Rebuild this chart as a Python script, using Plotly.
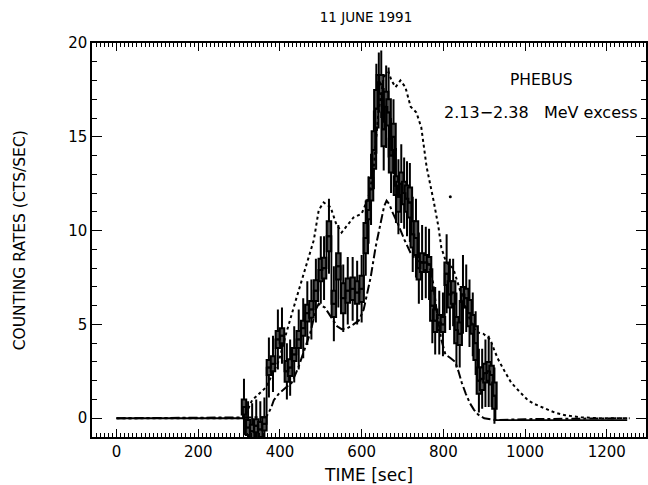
import plotly.graph_objects as go

# ---- data ----
# measured counting rates (bin centre [s], rate, half-height of thick box, 1-sigma error)
bin_time = [312, 322, 332, 342, 352, 362, 373, 383, 395, 405, 417, 425, 435, 446, 457, 467, 477, 488,
            500, 508, 520, 532, 543, 555, 566, 578, 589, 600, 610, 617, 623, 630, 636, 642, 648, 654,
            660, 666, 672, 678, 684, 690, 697, 704, 711, 718, 725, 733, 740, 748, 757, 765, 773, 780,
            790, 799, 808, 816, 824, 832, 840, 848, 856, 864, 872, 879, 887, 895, 903, 911, 918, 925]
rate = [0.6, -0.5, -0.7, -0.4, -0.6, -0.3, 2.7, 2.9, 4.2, 4.4, 2.5, 2.7, 3.4, 4.2, 4.8, 5.6, 5.8, 6.8,
        7.9, 8.0, 9.7, 6.1, 8.1, 6.4, 6.8, 6.9, 6.7, 6.9, 9.6, 11.1, 12.2, 14.3, 16.5, 17.9, 17.8, 15.4,
        16.6, 16.3, 14.0, 15.0, 12.4, 11.8, 12.5, 12.0, 11.7, 11.5, 9.8, 9.6, 8.0, 8.3, 8.3, 8.2, 6.0, 5.2,
        5.1, 5.0, 7.7, 6.6, 6.7, 4.7, 4.5, 6.6, 6.4, 5.6, 5.0, 4.0, 2.0, 2.1, 2.4, 2.5, 2.3, 1.2]
box_half = [0.4, 0.4, 0.35, 0.35, 0.4, 0.35, 0.4, 0.4, 0.45, 0.4, 0.55, 0.45, 0.35, 0.45, 0.4, 0.45, 0.45, 0.55,
            0.6, 0.55, 0.8, 0.7, 0.7, 0.8, 0.65, 0.6, 0.6, 0.7, 0.8, 0.5, 0.6, 1.0, 1.0, 0.4, 0.5, 0.9,
            0.8, 0.7, 0.9, 0.7, 0.5, 0.8, 0.6, 0.6, 0.7, 0.8, 0.7, 0.9, 0.6, 0.5, 0.4, 0.4, 0.8, 0.6,
            0.4, 0.4, 0.6, 0.7, 0.6, 0.7, 0.6, 0.4, 0.5, 0.7, 0.5, 0.9, 0.7, 0.6, 0.5, 0.5, 0.5, 0.7]
rate_err = [1.5, 1.4, 1.5, 1.4, 1.5, 1.4, 1.6, 1.5, 1.6, 1.5, 1.5, 1.5, 1.5, 1.6, 1.6, 1.7, 1.6, 1.7,
            1.8, 1.7, 2.0, 2.0, 2.2, 1.8, 1.8, 1.7, 1.7, 1.8, 2.0, 1.8, 1.9, 2.1, 2.4, 1.6, 1.8, 2.2,
            2.2, 2.4, 2.0, 2.0, 2.0, 2.0, 2.1, 1.9, 2.0, 2.1, 2.0, 2.1, 1.9, 2.0, 1.9, 1.9, 2.0, 1.8,
            1.7, 1.7, 2.1, 1.9, 1.8, 2.0, 1.8, 2.1, 1.8, 1.8, 1.7, 1.7, 1.7, 1.6, 1.8, 1.9, 1.7, 1.5]

# baseline of the measured rate before and after the event
pre_time = [0, 307]
pre_rate = [0.0, 0.0]
post_time = [930, 1250]
post_rate = [-0.1, -0.1]

# model curve 1 (dotted)
dot_time = [0, 312, 332, 366, 398, 415, 439, 471, 483, 495, 507, 524, 537, 551, 568, 580, 600, 617, 629,
            641, 654, 666, 673, 683, 695, 707, 720, 734, 746, 759, 776, 788, 795, 807, 824, 841, 854, 866,
            880, 898, 915, 925, 935, 950, 966, 985, 1007, 1024, 1049, 1073, 1098, 1137, 1180, 1256]
dot_rate = [0.0, 0.0, 0.96, 1.65, 3.1, 4.5, 6.3, 8.6, 9.5, 11.1, 11.5, 11.25, 10.4, 9.9, 10.4, 10.7, 10.9,
            11.8, 13.2, 16.3, 18.2, 18.45, 18.0, 17.65, 18.0, 17.65, 16.6, 16.3, 15.5, 13.4, 11.6, 10.2,
            9.1, 8.3, 8.0, 6.8, 5.9, 5.2, 4.6, 4.5, 4.2, 3.6, 3.1, 2.5, 1.9, 1.45, 0.96, 0.75, 0.5, 0.3,
            0.16, 0.05, 0.0, 0.0]

# model curve 2 (dash-dot)
dd_time = [0, 366, 378, 385, 398, 415, 429, 445, 460, 475, 488, 495, 510, 525, 540, 551, 565, 580, 593,
           605, 612, 622, 634, 646, 655, 661, 668, 675, 690, 705, 720, 735, 750, 765, 775, 785, 795, 805,
           818, 829, 837, 845, 855, 865, 875, 885, 900, 927, 1000, 1250]
dd_rate = [0.0, 0.05, 0.53, 0.96, 1.33, 1.65, 1.9, 2.7, 3.6, 4.6, 5.8, 6.1, 5.9, 5.4, 4.9, 4.75, 4.8, 5.0,
           5.2, 5.8, 6.45, 7.5, 9.1, 10.4, 11.3, 11.6, 11.4, 11.0, 10.3, 9.5, 8.8, 8.4, 8.3, 8.2, 7.2, 5.5,
           4.2, 3.4, 3.2, 3.0, 2.5, 1.9, 1.3, 0.8, 0.45, 0.2, 0.0, -0.1, -0.05, 0.0]

stray_time = [817]
stray_rate = [11.8]

x_ticks = [0, 200, 400, 600, 800, 1000, 1200]
y_ticks = [0, 5, 10, 15, 20]

FONT = "DejaVu Sans, Verdana, sans-serif"

fig = go.Figure()

# model curves
fig.add_trace(go.Scatter(x=dot_time, y=dot_rate, mode="lines",
                         line=dict(color="black", width=2, dash="dot"), hoverinfo="skip"))
fig.add_trace(go.Scatter(x=dd_time, y=dd_rate, mode="lines",
                         line=dict(color="black", width=2, dash="dashdot"), hoverinfo="skip"))

# measured step histogram
step_x = pre_time + bin_time + post_time
step_y = pre_rate + rate + post_rate
fig.add_trace(go.Scatter(x=step_x, y=step_y, mode="lines", line_shape="hvh",
                         line=dict(color="black", width=1.8), hoverinfo="skip"))

# error boxes (thick box) with thin error bars
fig.add_trace(go.Box(
    x=bin_time,
    q1=[v - h for v, h in zip(rate, box_half)],
    median=rate,
    q3=[v + h for v, h in zip(rate, box_half)],
    lowerfence=[v - e for v, e in zip(rate, rate_err)],
    upperfence=[v + e for v, e in zip(rate, rate_err)],
    width=11, whiskerwidth=0, boxpoints=False,
    line=dict(color="black", width=2), fillcolor="rgb(80,80,80)",
    hoverinfo="skip"))

fig.add_trace(go.Scatter(x=stray_time, y=stray_rate, mode="markers",
                         marker=dict(color="black", size=3), hoverinfo="skip"))

axis_common = dict(showgrid=False, zeroline=False, showline=True, linecolor="black", linewidth=1.5,
                   ticks="inside", tickcolor="black", mirror="ticks",
                   tickfont=dict(family=FONT, size=15, color="black"))

fig.update_xaxes(range=[-60, 1296], tickvals=x_ticks, ticklen=8, tickwidth=1.2,
                 minor=dict(dtick=10, ticklen=4, ticks="inside", tickcolor="black", tickwidth=1),
                 **axis_common)
fig.update_yaxes(range=[-1, 20], tickvals=y_ticks, ticklen=10, tickwidth=1.2,
                 minor=dict(dtick=1, ticklen=5, ticks="inside", tickcolor="black", tickwidth=1),
                 **axis_common)

fig.update_layout(
    width=648, height=485,
    margin=dict(l=92, r=0, t=43, b=48),
    paper_bgcolor="white", plot_bgcolor="white",
    showlegend=False,
    font=dict(family=FONT, size=15, color="black"),
    title=dict(text="11 JUNE 1991", x=(366 / 648), xanchor="center", y=1 - 17 / 485, yanchor="middle",
               font=dict(family=FONT, size=13.5, color="black")),
    annotations=[
        dict(text="PHEBUS", xref="paper", yref="paper", x=(543 - 92) / 556, y=(437 - 80) / 394,
             xanchor="center", yanchor="middle", showarrow=False, font=dict(size=15.5)),
        dict(text="2.13\u22122.38\u00a0\u00a0\u00a0MeV excess", xref="paper", yref="paper",
             x=(543 - 92) / 556, y=(437 - 113) / 394, xanchor="center", yanchor="middle",
             showarrow=False, font=dict(size=16)),
        dict(text="TIME [sec]", xref="paper", yref="paper", x=(369 - 92) / 556, y=(437 - 475) / 394,
             xanchor="center", yanchor="middle", showarrow=False, font=dict(size=17)),
        dict(text="COUNTING RATES (CTS/SEC)", xref="paper", yref="paper", x=(20 - 92) / 556,
             y=0.5, textangle=-90, showarrow=False, font=dict(size=15.5), xanchor="center",
             yanchor="middle"),
    ],
)

fig.write_html("out.html", config={"displayModeBar": False},
               post_script="document.body.style.margin='0';document.body.style.overflow='hidden';")
